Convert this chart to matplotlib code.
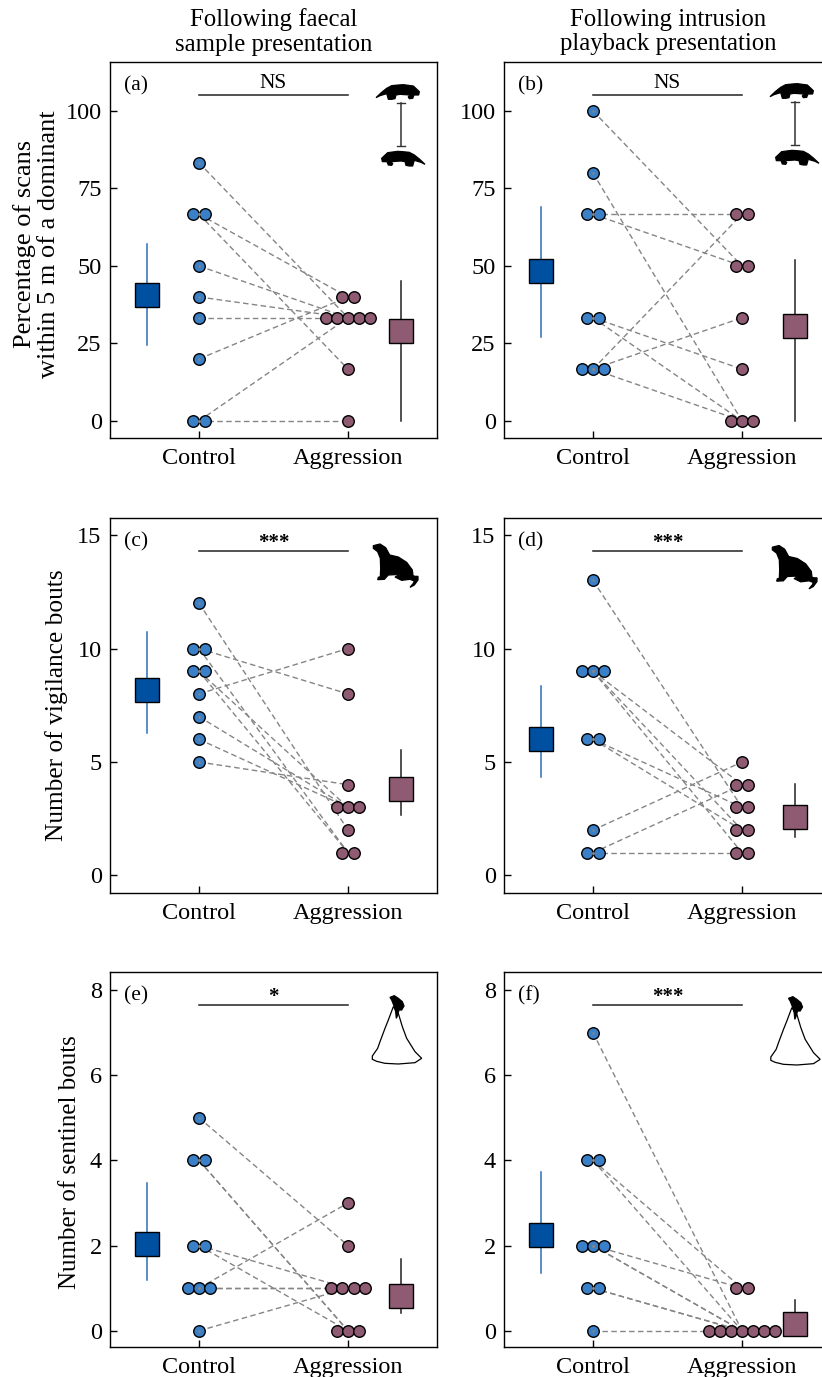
import matplotlib
matplotlib.use('Agg')
import matplotlib.pyplot as plt
from matplotlib.patches import Polygon
from matplotlib.transforms import Affine2D, blended_transform_factory
from collections import Counter

W, H = 822, 1377
plt.rcParams['font.family'] = ['Liberation Serif', 'DejaVu Serif']

BLUE_BOX = '#0050a2'
BLUE_DOT = '#3a80c8'
BLUE_LINE = '#2a70bc'
MAUVE = '#8f5b73'
GREY = '#858585'

# paired scores, control -> aggression
a_control = [83.3, 66.7, 66.7, 50, 40, 33.3, 20, 0, 0]
a_aggression = [33.3, 40, 16.7, 33.3, 33.3, 33.3, 40, 33.3, 0]
b_control = [100, 80, 66.7, 66.7, 33.3, 33.3, 16.7, 16.7, 16.7]
b_aggression = [50, 0, 66.7, 50, 16.7, 0, 66.7, 33.3, 0]
c_control = [12, 10, 10, 9, 9, 8, 7, 6, 5]
c_aggression = [2, 8, 1, 1, 3, 10, 3, 3, 4]
d_control = [13, 9, 9, 9, 6, 6, 2, 1, 1]
d_aggression = [3, 4, 2, 1, 3, 2, 5, 4, 1]
e_control = [5, 4, 4, 2, 2, 1, 1, 1, 0]
e_aggression = [2, 0, 0, 1, 0, 3, 1, 1, 1]
f_control = [7, 4, 4, 2, 2, 2, 1, 1, 0]
f_aggression = [0, 1, 0, 1, 0, 0, 0, 0, 0]

# mean, upper, lower for (control, aggression)
a_means = [(40.6, 57, 24.5), (29, 45, 0)]
b_means = [(48.4, 69, 27), (30.7, 52, 0)]
c_means = [(8.18, 10.73, 6.28), (3.82, 5.54, 2.67)]
d_means = [(6.0, 8.33, 4.32), (2.59, 4.04, 1.70)]
e_means = [(2.03, 3.46, 1.20), (0.81, 1.68, 0.41)]
f_means = [(2.24, 3.73, 1.35), (0.16, 0.72, 0.0)]

panel_labels = ['(a)', '(b)', '(c)', '(d)', '(e)', '(f)']
signif = ['NS', 'NS', '***', '***', '*', '***']
group_labels = ['Control', 'Aggression']
yticks_row = [[0, 25, 50, 75, 100], [0, 5, 10, 15], [0, 2, 4, 6, 8]]
ylims_row = [(-5.5, 115.8), (-0.75, 15.75), (-0.38, 8.42)]
ylabels_row = ['Percentage of scans\nwithin 5 m of a dominant',
               'Number of vigilance bouts', 'Number of sentinel bouts']
col_titles = ['Following faecal\nsample presentation',
              'Following intrusion\nplayback presentation']

controls = [a_control, b_control, c_control, d_control, e_control, f_control]
aggressions = [a_aggression, b_aggression, c_aggression, d_aggression, e_aggression, f_aggression]
means = [a_means, b_means, c_means, d_means, e_means, f_means]

# silhouettes, traced in pixels of the zoomed crops (3x)
walker = [(18, 68), (35, 52), (50, 40), (65, 32), (85, 30), (100, 29), (130, 33), (148, 50), (146, 60),
          (132, 60), (128, 70), (118, 71), (115, 66), (120, 60), (90, 58), (78, 60), (75, 71),
          (65, 73), (55, 73), (52, 62), (50, 56), (30, 62)]
stander = [(25, 32), (45, 27), (62, 38), (74, 60), (100, 66), (125, 82), (142, 105), (144, 122),
           (150, 124), (159, 124), (159, 135), (148, 150), (135, 157), (145, 145), (148, 138),
           (135, 133), (110, 136), (90, 126), (105, 120), (90, 119), (70, 120), (58, 133),
           (38, 134), (40, 127), (46, 125), (47, 100), (46, 70), (38, 50), (25, 40)]
sentinel = [(75, 22), (88, 17), (100, 25), (112, 35), (117, 48), (110, 60), (102, 60), (98, 75),
            (94, 85), (92, 65), (86, 45), (80, 30)]
mound = [(85, 50), (70, 90), (60, 115), (45, 155), (38, 175), (22, 198), (22, 208), (35, 214), (60, 220),
         (100, 222), (150, 218), (170, 205), (150, 185), (125, 145), (112, 110), (100, 70)]


def px_axes(fig, left, top, right, bottom):
    return fig.add_axes([left / W, 1 - bottom / H, (right - left) / W, (bottom - top) / H])


def dodged(values):
    # centre equal values side by side, 11 px apart
    step = 11.1 / 149
    counts = Counter(values)
    seen = Counter()
    xs = []
    for v in values:
        xs.append((seen[v] - (counts[v] - 1) / 2) * step)
        seen[v] += 1
    return xs


def icon(fig, points, x0, y0, filled=True):
    tr = Affine2D().scale(1 / 3 / W, -1 / 3 / H).translate(x0 / W, 1 - y0 / H) + fig.transFigure
    fig.add_artist(Polygon(points, closed=True, transform=tr,
                           facecolor='black' if filled else 'none', edgecolor='black', lw=0.9))


fig = plt.figure(figsize=(W / 100, H / 100), dpi=100)

lefts = [110, 504]
tops = [62, 518, 972]
bottoms = [438, 892.5, 1347]

for i in range(6):
    row, col = i // 2, i % 2
    ax = px_axes(fig, lefts[col], tops[row], lefts[col] + 327, bottoms[row])
    ax.set_xlim(0.403, 2.597)
    ax.set_ylim(*ylims_row[row])

    for y1, y2 in zip(controls[i], aggressions[i]):
        ax.plot([1, 2], [y1, y2], color=GREY, lw=1, dashes=(4, 2.4), zorder=2)

    ax.plot([1 + d for d in dodged(controls[i])], controls[i], 'o', ms=8.3, mfc=BLUE_DOT,
            mec='black', mew=1, ls='none', zorder=3)
    ax.plot([2 + d for d in dodged(aggressions[i])], aggressions[i], 'o', ms=8.3, mfc=MAUVE,
            mec='black', mew=1, ls='none', zorder=3)
    # the dashed lines show as a speck in the dots they start from
    ax.plot([1] * len(controls[i]), controls[i], '.', ms=1.6, color=GREY, zorder=4)

    # mean and CI
    m, hi, lo = means[i][0]
    ax.plot([0.651, 0.651], [lo, hi], color=BLUE_LINE, lw=1.1, zorder=4)
    ax.plot(0.651, m, 's', ms=16.8, mfc=BLUE_BOX, mec='black', mew=1, zorder=5)
    m, hi, lo = means[i][1]
    ax.plot([2.356, 2.356], [lo, hi], color='#222222', lw=1.1, zorder=4)
    ax.plot(2.356, m, 's', ms=16.8, mfc=MAUVE, mec='black', mew=1, zorder=5)

    # significance bar
    trans = blended_transform_factory(ax.transData, ax.transAxes)
    bar_y = 0.913 if row != 1 else 0.912
    ax.plot([1, 2], [bar_y, bar_y], color='#222222', lw=1.1, transform=trans, clip_on=False)
    if signif[i] == 'NS':
        ax.text(1.5, bar_y + 0.004, signif[i], transform=trans, ha='center', va='bottom', fontsize=15.5)
    else:
        ax.text(1.5, bar_y - 0.006, signif[i], transform=trans, ha='center', va='bottom', fontsize=15,
                fontweight='bold')

    ax.text(14 / 327, 0.936, panel_labels[i], transform=ax.transAxes, ha='left', va='center', fontsize=15.5)

    ax.set_xticks([1, 2])
    ax.set_xticklabels(group_labels)
    ax.set_yticks(yticks_row[row])
    ax.tick_params(direction='in', length=5, width=1, pad=6, labelsize=17.5)
    ax.tick_params(axis='x', pad=7.5)
    for s in ax.spines.values():
        s.set_linewidth(1)

# column titles
for cx, title in zip([274, 668], col_titles):
    fig.text(cx / W, 1 - 32 / H, title, ha='center', va='center', fontsize=17.8, linespacing=1.15)

# y labels
fig.text(36.5 / W, 1 - 244 / H, ylabels_row[0], rotation=90, ha='center', va='center', fontsize=19,
         linespacing=1.13, multialignment='center')
fig.text(57 / W, 1 - 705 / H, ylabels_row[1], rotation=90, ha='center', va='center', fontsize=18.3)
fig.text(70 / W, 1 - 1162 / H, ylabels_row[2], rotation=90, ha='center', va='center', fontsize=18)

# dominance icons, panels (a) and (b)
walker_flip = [(183 - x, y + 200) for x, y in walker]
for x0, y0 in [(370, 75), (764, 74)]:
    icon(fig, walker, x0, y0)
    icon(fig, walker_flip, x0, y0)
    cx = x0 + 31
    fig.add_artist(plt.Line2D([cx / W, cx / W], [1 - (y0 + 28) / H, 1 - (y0 + 71) / H], color='#333333', lw=1.1))
    for yy in [y0 + 28, y0 + 71]:
        fig.add_artist(plt.Line2D([(cx - 4) / W, (cx + 4) / W], [1 - yy / H, 1 - yy / H], color='#333333', lw=1))

# vigilance icons
for x0, y0 in [(365, 535), (764, 536.5)]:
    icon(fig, stander, x0, y0)

# sentinel icons
for x0, y0 in [(365, 990), (763.5, 991)]:
    icon(fig, mound, x0, y0, filled=False)
    icon(fig, sentinel, x0, y0)

fig.savefig('out.png', dpi=100)
